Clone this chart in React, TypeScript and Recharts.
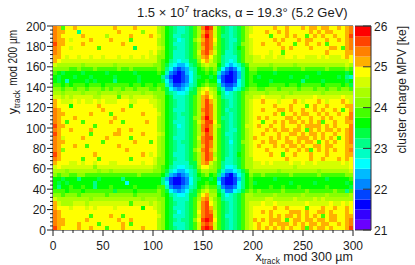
import React from "react";
import {
  ScatterChart,
  Scatter,
  BarChart,
  Bar,
  XAxis,
  YAxis,
  ReferenceLine,
} from "recharts";

// ---------------------------------------------------------------------------
// Data
// ---------------------------------------------------------------------------

const FONT = "'Liberation Sans', Arial, sans-serif";
const INK = "#1c1c1c";

// colour bins of the z scale, lowest first (21 to 26 ke in steps of 0.25)
const levelColors = [
  "#6a00ff", "#3300ff", "#0000ff", "#0044ff",
  "#0088ff", "#00bbff", "#00ffff", "#00ffc4",
  "#00ff88", "#00ff44", "#00ff00", "#44ff00",
  "#88ff00", "#aaff00", "#d4ff00", "#ffff00",
  "#ffb000", "#ff8000", "#ff4400", "#ff0000",
];
const zMin = 21;
const zStep = 0.25;
const binSize = 4; // um

const xMajor = [0, 50, 100, 150, 200, 250, 300];
const xTicks = [
  0, 10, 20, 30, 40, 50, 60, 70, 80, 90, 100, 110, 120, 130, 140, 150, 160,
  170, 180, 190, 200, 210, 220, 230, 240, 250, 260, 270, 280, 290, 300,
];
const yMajor = [0, 20, 40, 60, 80, 100, 120, 140, 160, 180, 200];
const yTicks = [
  0, 4, 8, 12, 16, 20, 24, 28, 32, 36, 40, 44, 48, 52, 56, 60, 64, 68, 72, 76,
  80, 84, 88, 92, 96, 100, 104, 108, 112, 116, 120, 124, 128, 132, 136, 140,
  144, 148, 152, 156, 160, 164, 168, 172, 176, 180, 184, 188, 192, 196, 200,
];
const zTicks = [0, 1, 2, 3, 4, 5];

// one string per row from y = 200 down to y = 0, one character per 4 um bin;
// each character is the colour bin of that cell (0-9a-j), spaces are only for reading
const mpvRows = [
  "hgbff gffff fffff gffff gffff f dca98 7789b dhji eb987 89bde fffff gffgf ffgfg gfggf fgfgh",
  "hggff f8fff fffff fgfff ffcff f dca98 7789b dgih eb987 89bde fffgf fgfgf ffffg fgfgg fffgh",
  "hgfff ffgff fffdf ffffg ffffg f eca97 7889b dhjh eb887 89bdf ffffb fffgf gffbf gfgff gffgi",
  "hggfe ffffg ffffg ffffb fffff f dca98 6789c egih fb987 79bde fffff gfgff fgfgg fffgf fgfgh",
  "iggff ffgff fffff ffgff fffff f dca97 7789b dhih eb987 89cde ffgff fgfff bffgf fgfbf fffgh",
  "hgffe fffff fbfff fffff 9ffff f eda98 7789b dgih db987 8abde fffff ffgfg ffffg ffffg gfbgh",
  "hgfff fffff fffff fffff ffffe f dca97 7789b ehig eb977 89bde ffffe ffbff fffff fffgf fffgg",
  "ggfef feffe ffeff feffe ffefe e cca97 7789b dghf cb877 79bdd eefee feeff effee efefe eefgf",
  "gfeee eeeee eeeee eeeee eeeee e cba87 67799 cfge cb876 79bdd eeeee eeeee eeeee eeeee eeeef",
  "edddd ddcdd ddddd cdddd ddddd c cb976 55689 bded da865 679bd ddddc ddddd cdddd ddddd ddded",
  "ccccb bcbbb cbbbb bcbbc bbbbb b cb864 34578 abcb c9643 468ac cbbbb cbbbb bbcbb bbbcb bbbcb",
  "ba9aa aa9aa aaa9a aaaaa 9aaaa a ba743 23568 aaba b7432 358ab baaaa 9aaaa aaaaa a9aaa aaa9a",
  "a9aaa 9aaa9 aaaaa 9aaaa a9aaa a a8532 23468 9aa9 a5322 358ab a9aaa aaaa9 aaa9a aaaaa a9a87",
  "a9a7a aaa9a 9aaaa 8aaaa a9aaa a a9642 23468 aaba a6322 368ab aaaa9 aaaaa aa8aa aa9aa aaa9a",
  "bbaba bbbab bbabb bbbba bbabb a bb753 34578 abcb b8433 468ab baaab bbbab babbb bbabb bbab9",
  "ccbcc bccbc ccbcb ccbcc bcccb b cb965 45689 cefd c9744 679bc cbbcc cbccc cbccc bccbc cbccb",
  "ddcdd ddcdd dcddd dcddd ddcdd c cc987 66799 dfge da867 89bcd dddcd ddddc ddddd ddcdd ddddd",
  "eeded eeeee ddeee ebeed eeeee d cca97 7789b dghf db877 89bdd eefee eedee eeeee feeee eefee",
  "gfeee fefee fefee efffe efffe e dca98 7789b dgig eb987 89bde ffgff fefff gfeff fgfef ffgfe",
  "gfffa fffff fgfff ffffb fffff e dca98 7789b dgih eb987 89bde fffff gfffg fffbf gffgf fffgg",
  "hgfff fffff ffgff ffgff fffff f dca97 7789b dhih eb978 89bde ffgff fggfg ffgff gfgff gfbfg",
  "hggff ffffg ffffb fffff ffgff f eca98 7889b dgih eb987 89bde fffff gfbff gfggf fgfgf fgffh",
  "hgfff gffff fffff gffff fffff f dca98 7789c dhjh eb887 89bde fgfgf fffgg fgffg ffgfg fffgh",
  "hgfbf ffbff ffffg ffbff fffgf f dca97 7789b egii fb987 89bde ffbff gfgfg gfgfg fgbff gffgg",
  "iggff fffff bffff fffff fffff f dca98 6789b dhih ec987 89bee fgffg ffgff fgfgg ggfgf gfffh",
  "hgffg ffffg fffff fgffg fffff f dca98 7789b dhjh eb987 79bde fffgf gfggf ggfbg fgfgg fgfgh",
  "igfff ffffb fffff ggfff ffgff f eda98 7789b dgih eb977 89bde ffgff fgffg gfgfg gfgff gffgh",
  "hgeff ffgff fffgf ffffb fffff f dca97 7789b ehii eb987 89bde gfffg fgfgf fgggf gfgfg fbfgh",
  "hggff fffff ffbff fffff gfffb f dca98 7889b dhih eb986 89cde ffgfg gffgg fgfgg fbfgf gffgh",
  "hgfff gffbf fffff fgfff fffff f dca98 7789b dgih eb987 89bde fgfff gfgfg gfgff ggfgg fffgg",
  "hgcff fffff fffff fffgf fffff f dca98 7789c ehig eb987 89bde fffgf fffgf fgfgb fgfgf gffgh",
  "igfff fffff gffff fffff ffgfe f dca97 7789b dgih db987 8abde ffffg ffbff gfffg fffgf fffgg",
  "hgfff ffbff fbfff ffffb fffff e cca98 7789b dgih eb977 89bdd fffff fffgf ffffg ffgff fgfgf",
  "gfffe efeff efffe effff ffeff e cca97 77799 dghe cb877 89bdd eefef eeeef eefee feeee eefef",
  "efeee eeeee ceeee eeeee eeeee d cba87 66789 cffd cb866 79bdd eeeee eeeee deeee eeeee eeeef",
  "dddcd ddddd dcddc ddddd ddddd c cb976 55678 bddc c9755 679bd ddddd dcddd ddddd dcddd dddde",
  "cbccb bccbb bbbbb bbbbb bcbbb b ba854 34578 abca b8532 468ac bbcbb bbbbc bbbbb bcbbb bbbcc",
  "aa9aa a8aaa a9aaa aa8aa aaaaa a a8532 23468 9aa9 a5322 358ab aaaaa 9aaaa aaaaa aaa9a aaaab",
  "a9a9a aaaaa 8aaaa aaa6a aaaaa a a8632 23468 aaba a6322 368ab 9aaaa aaaa9 aaaaa 9aaaa aaa9a",
  "a8aab aabaa 8aaab aaaaa baaaa a bb743 34578 abcb b8433 468ab aaaab aabaa abaaa aaaba aaaa9",
  "bbbab bbabb bbbbb 9bbbb abbbb b cb965 45689 bdec c9744 679bc bcbbb bbcbb bbbcb bbbbb cbb8b",
  "ccbcc cbccc cccbc ccccc bcccc c cba87 66799 cfgd da867 89bdd ccccc dcccc ccdcc cccdc ccccd",
  "edddd ddddc ddddd ddddd ddcdd d cca97 7779b dghe cb877 89bdd dddee ddddd edddd ededd ddddd",
  "geddd eeede eeeee eeeeb eeeed e dca98 7789b ehif db987 89bde eefee feeee eeefe eeeef eefef",
  "gfffe fffef effff effff ffaff e dca97 7789b ehig db987 89bde fffff gffgf fffbf ffgff gffgf",
  "hgfff fffff fffff fffff fffff f dca98 6789b fhih eb987 89bde ffgfg ffffg ggfgf fggfg fffgf",
  "hgfff ffffb ffffg ffbff fffff f eca97 7789b ehii eb977 89bde ffffg fgfgg fgfgf gfbfg gffgg",
  "hggff fffgf fffff fgffg fffff f dca98 7889c fiji fb987 89bde gfgfg ggfbf ggfgg fggfg gffgh",
  "hggff fgfff fbfff ffgfb fffff f dca97 7789b ehih eb987 89bde fgffg fgggf gfgfg gfggf fgfgh",
  "igfff fgffg fffbf ffgff ffgff f dca98 7789b eiji eb987 89bde fgfgf gfgfg ffgbg fggfg fffgi",
];

const cells = mpvRows.flatMap((row, r) =>
  row
    .replace(/ /g, "")
    .split("")
    .map((ch, c) => ({
      x: c * binSize + binSize / 2,
      y: 200 - r * binSize - binSize / 2,
      level: parseInt(ch, 20),
    })),
);

const colorBar = [
  Object.fromEntries(levelColors.map((_, i) => [`l${i}`, zStep])),
];

// ---------------------------------------------------------------------------
// Tick renderers (ROOT style: long major, short minor, all outward)
// ---------------------------------------------------------------------------

function BottomTick({ x, y, payload }: any) {
  const major = xMajor.includes(payload.value);
  return (
    <g>
      <line x1={x} x2={x} y1={y} y2={y + (major ? 6 : 3)} stroke={INK} />
      {major && (
        <text x={x} y={y + 19.5} textAnchor="middle" fontFamily={FONT} fontSize={12} fill={INK}>
          {payload.value}
        </text>
      )}
    </g>
  );
}

function TopTick({ x, y, payload }: any) {
  const major = xMajor.includes(payload.value);
  return <line x1={x} x2={x} y1={y} y2={y - (major ? 6 : 3)} stroke={INK} />;
}

function LeftTick({ x, y, payload }: any) {
  const major = yMajor.includes(payload.value);
  return (
    <g>
      <line x1={x} x2={x - (major ? 6 : 3)} y1={y} y2={y} stroke={INK} />
      {major && (
        <text x={x - 7} y={y + 4.5} textAnchor="end" fontFamily={FONT} fontSize={12} fill={INK}>
          {payload.value}
        </text>
      )}
    </g>
  );
}

function ColorBarTick({ x, y, payload }: any) {
  return (
    <g>
      <line x1={x - 8} x2={x} y1={y} y2={y} stroke="#333" />
      <text x={x + 3} y={y + 4.5} fontFamily={FONT} fontSize={12} fill={INK}>
        {zMin + payload.value}
      </text>
    </g>
  );
}

function Cell({ cx, cy, payload }: any) {
  return (
    <rect
      x={cx - 2}
      y={cy - 2.04}
      width={4}
      height={4.08}
      fill={levelColors[payload.level]}
      shapeRendering="crispEdges"
    />
  );
}

// ---------------------------------------------------------------------------
// App
// ---------------------------------------------------------------------------

export default function App() {
  return (
    <div style={{ position: "absolute", left: 0, top: 0, width: 415, height: 265 }}>
      <ScatterChart
        width={415}
        height={265}
        margin={{ top: 6, right: 62, bottom: 5, left: 0 }}
      >
        <XAxis
          xAxisId="bottom"
          type="number"
          dataKey="x"
          domain={[0, 300]}
          ticks={xTicks}
          interval={0}
          height={30}
          tickSize={0}
          tickMargin={0}
          tickLine={false}
          tick={<BottomTick />}
          stroke={INK}
        />
        <XAxis
          xAxisId="top"
          orientation="top"
          type="number"
          domain={[0, 300]}
          ticks={xTicks}
          interval={0}
          height={20}
          tickSize={0}
          tickMargin={0}
          tickLine={false}
          tick={<TopTick />}
          stroke={INK}
        />
        <YAxis
          type="number"
          dataKey="y"
          domain={[0, 200]}
          ticks={yTicks}
          interval={0}
          width={53}
          tickSize={0}
          tickMargin={0}
          tickLine={false}
          tick={<LeftTick />}
          stroke={INK}
        />
        <Scatter
          xAxisId="bottom"
          data={cells}
          shape={<Cell />}
          isAnimationActive={false}
        />
        <ReferenceLine xAxisId="bottom" x={300} stroke="#9a9a9a" />

        <text x={137} y={17} fontFamily={FONT} fontSize={13} fill={INK}>
          1.5 × 10
          <tspan dy={-5} fontSize={9}>7</tspan>
          <tspan dy={5}> tracks, α = 19.3° (5.2 GeV)</tspan>
        </text>
        <text x={353} y={261} textAnchor="end" fontFamily={FONT} fontSize={12.5} fill={INK}>
          x
          <tspan dy={3} fontSize={8.3}>track</tspan>
          <tspan dy={-3}> mod 300 µm</tspan>
        </text>
        <text
          transform="translate(17,30) rotate(-90) scale(0.8,1)"
          textAnchor="end"
          fontFamily={FONT}
          fontSize={12.5}
          fill={INK}
        >
          mod 200 µm
        </text>
        <text
          transform="translate(17,90) rotate(-90)"
          textAnchor="end"
          fontFamily={FONT}
          fontSize={12.5}
          fill={INK}
        >
          y
          <tspan dy={3} fontSize={8.3}>track</tspan>
        </text>
        <text
          transform="translate(406,26) rotate(-90)"
          textAnchor="end"
          fontFamily={FONT}
          fontSize={12}
          fill={INK}
        >
          cluster charge MPV [ke]
        </text>
      </ScatterChart>

      <div style={{ position: "absolute", left: 355, top: 0 }}>
        <BarChart
          width={50}
          height={265}
          data={colorBar}
          barCategoryGap={0}
          margin={{ top: 26, right: 0, bottom: 35, left: 0 }}
        >
          <XAxis hide />
          <YAxis
            orientation="right"
            type="number"
            domain={[0, 5]}
            ticks={zTicks}
            interval={0}
            width={34}
            tickSize={0}
            tickMargin={0}
            tickLine={false}
            tick={<ColorBarTick />}
            stroke="#333"
          />
          {levelColors.map((color, i) => (
            <Bar
              key={color}
              dataKey={`l${i}`}
              stackId="z"
              fill={color}
              isAnimationActive={false}
            />
          ))}
          <ReferenceLine y={5} stroke="#333" />
          <ReferenceLine y={0} stroke="#333" />
        </BarChart>
      </div>
    </div>
  );
}
